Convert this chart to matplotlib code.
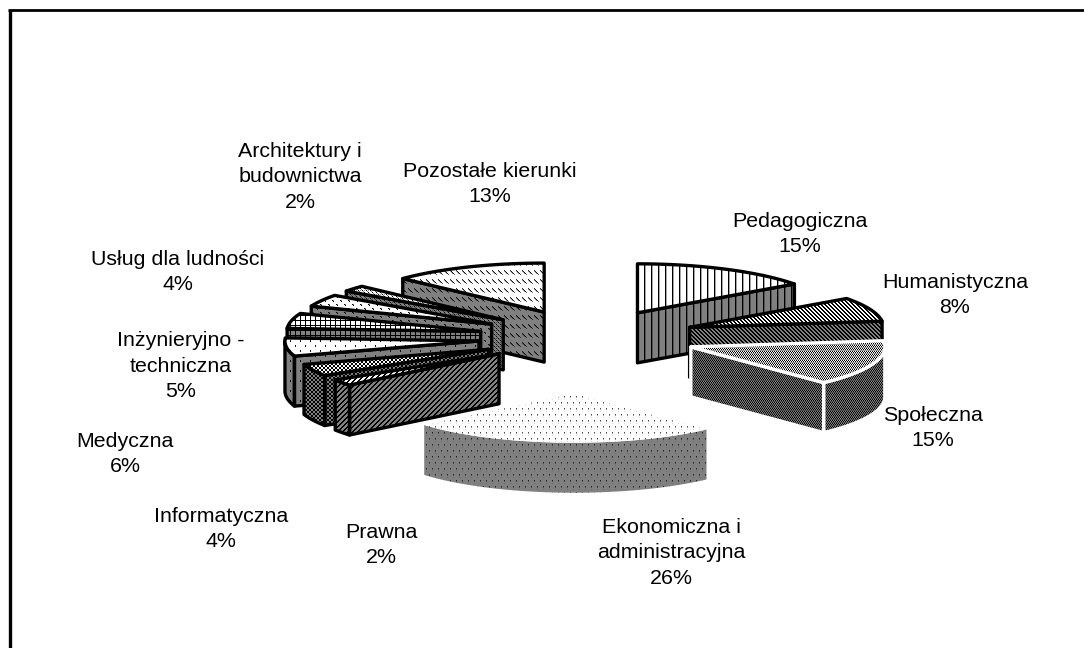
import numpy as np
import matplotlib
matplotlib.use('Agg')
import matplotlib.pyplot as plt
from matplotlib.patches import Polygon

plt.rcParams['font.family'] = ['Liberation Sans', 'DejaVu Sans']

categories = ["Pedagogiczna", "Humanistyczna", "Społeczna", "Ekonomiczna i\nadministracyjna", "Prawna",
              "Informatyczna", "Medyczna", "Inżynieryjno -\ntechniczna", "Usług dla ludności",
              "Architektury i\nbudownictwa", "Pozostałe kierunki"]
shares = [15, 8, 15, 26, 2, 4, 6, 5, 4, 2, 13]

# how far each slice is pulled out of the pie
explode = [0.565, 0.565, 0.565, 1.15, 0.565, 0.565, 0.565, 0.565, 0.565, 0.565, 0.565]
label_pos = [(800, 234), (955, 295), (933, 428), (671, 553), (381, 545), (221, 529),
             (125, 454), (181, 366), (178, 272), (300, 177), (490, 184)]
edge_colors = ['black', 'black', 'white', 'none', 'black', 'black', 'black', 'black', 'black', 'black', 'black']

W, H = 1084, 648
cx, cy = 587.7, 337.5
rx, ry = 194, 49
depth = 50


def grid(rows):
    return np.array(rows, dtype=float)


def diag(n, width, up=False):
    t = np.zeros((n, n))
    for i in range(n):
        for k in range(width):
            j = (i + k) % n
            t[i, n - 1 - j if up else j] = 1
    return t


def dots(h, w, pts):
    t = np.zeros((h, w))
    for (i, j, v) in pts:
        t[i, j] = v
    return t


vert = np.zeros((7, 7))
vert[:, 0] = 1
vert[:, 1] = 0.35
lattice = np.zeros((5, 5))
lattice[:, 0] = 1
lattice[0, :] = 1
dash = dots(9, 6, [(0, 0, .8), (1, 1, .9), (2, 2, .9), (3, 3, .9), (4, 4, .6), (1, 0, .4), (2, 1, .4), (3, 2, .4)])
wavy = grid([[1, 0, 1, 0], [0, 1, 0, 1], [.4, .4, .4, .4]])
trellis = grid([[1, 0, 0, 1], [0, 1, 1, 0], [0, 1, 1, 0], [1, 0, 0, 1]])
sparse = dots(12, 12, [(0, 0, .7), (1, 0, .4), (0, 6, .7), (1, 6, .4), (6, 3, .7), (7, 3, .4), (6, 9, .7),
                       (7, 9, .4), (3, 0, .15), (3, 6, .15), (9, 3, .15), (9, 9, .15)])
medium = dots(10, 10, [(0, 0, .9), (1, 0, .9), (5, 5, .9), (6, 5, .9)])
spots = dots(8, 8, [(0, 0, 1), (1, 1, 1), (0, 1, .5), (4, 4, 1), (5, 5, 1), (4, 5, .5)])
stipple = dots(4, 4, [(0, 0, 1), (1, 1, .5), (2, 2, 1), (3, 3, .5), (2, 0, .4)])

patterns = [vert, diag(4, 2), wavy, sparse, diag(5, 2, up=True), trellis, medium, lattice, spots, stipple, dash]


def texture(tile, bg):
    # repeat a fill pattern over the whole canvas, pixel for pixel
    ny = H // tile.shape[0] + 1
    nx = W // tile.shape[1] + 1
    t = np.tile(tile, (ny, nx))[:H, :W]
    return bg * (1 - t)


fig = plt.figure(figsize=(W / 100, H / 100), dpi=100)
ax = fig.add_axes([0, 0, 1, 1])
ax.set_xlim(0, W)
ax.set_ylim(H, 0)
ax.axis('off')


def face(pts, tile, bg, edge, z):
    img = ax.imshow(texture(tile, bg), cmap='gray', vmin=0, vmax=255, extent=(0, W, H, 0),
                    interpolation='nearest', aspect='auto', zorder=z)
    poly = Polygon(pts, closed=True, transform=ax.transData, fc='none', ec='none')
    ax.add_patch(poly)
    img.set_clip_path(poly)
    if edge != 'none':
        ax.add_patch(Polygon(pts, closed=True, fc='none', ec=edge, lw=2.4, joinstyle='round', zorder=z + 0.5))


def arc(x0, y0, a, b):
    th = np.radians(np.linspace(a, b, 60))
    return np.column_stack([x0 + rx * np.sin(th), y0 - ry * np.cos(th)])


# slices run clockwise from 12 o'clock
ends = np.cumsum(shares) * 3.6
starts = ends - np.array(shares) * 3.6
mids = (starts + ends) / 2
tips_x = cx + np.array(explode) * rx * np.sin(np.radians(mids))
tips_y = cy - np.array(explode) * ry * np.cos(np.radians(mids))

# back to front
for n, i in enumerate(np.argsort(tips_y)):
    a, b = starts[i], ends[i]
    x0, y0 = tips_x[i], tips_y[i]
    tile = patterns[i]
    edge = edge_colors[i]
    z = 2 + n * 2
    down = np.array([0, depth])
    tip = np.array([x0, y0])

    if np.sin(np.radians(b)) > 1e-6:
        p = arc(x0, y0, b, b)[0]
        face([tip, p, p + down, tip + down], tile, 128, edge, z)
    if np.sin(np.radians(a)) < -1e-6:
        p = arc(x0, y0, a, a)[0]
        face([tip, p, p + down, tip + down], tile, 128, edge, z)
    lo, hi = max(a, 90), min(b, 270)
    if hi > lo:
        rim = arc(x0, y0, lo, hi)
        face(np.vstack([rim, rim[::-1] + down]), tile, 128, edge, z)
    top = np.vstack([tip, arc(x0, y0, a, b)])
    face(top, tile, 255, edge, z + 1)

for name, share, (lx, ly) in zip(categories, shares, label_pos):
    ax.text(lx, ly, f"{name}\n{share}%", ha='center', va='center', fontsize=15.4,
            linespacing=1.46, color='black', zorder=50)

# the frame only shows on the top and left
ax.plot([9.5, 9.5], [10, H], color='black', lw=2.4, solid_capstyle='butt', zorder=60)
ax.plot([8, W], [10, 10], color='black', lw=2.0, solid_capstyle='butt', zorder=60)

fig.savefig('out.png', dpi=100, facecolor='white')
